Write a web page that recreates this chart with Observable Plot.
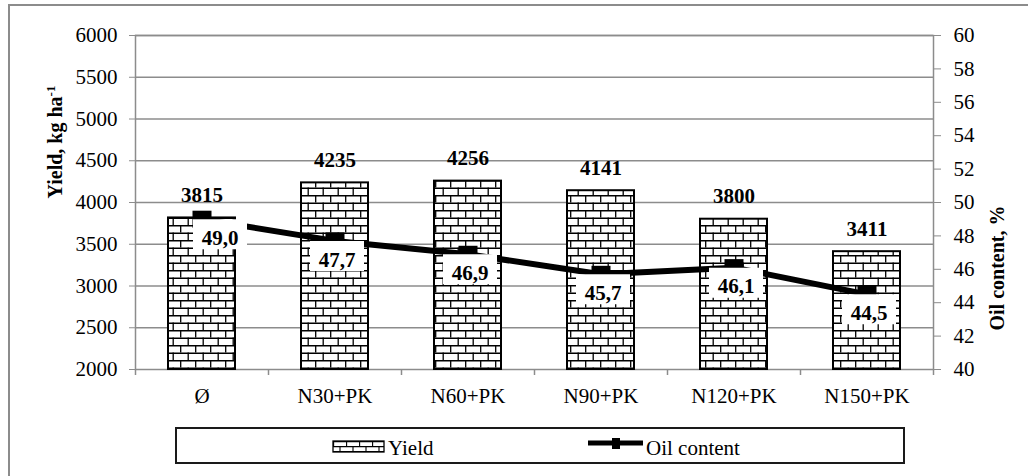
<!DOCTYPE html>
<html><head><meta charset="utf-8">
<script src="https://cdn.jsdelivr.net/npm/d3@7"></script>
<script src="https://cdn.jsdelivr.net/npm/@observablehq/plot@0.6"></script>
<style>
html,body{margin:0;padding:0;background:#fff;width:1028px;height:476px;overflow:hidden;font-family:"Liberation Serif","Times New Roman",Times,serif;}
#frame{position:absolute;left:8px;top:4px;width:1100px;height:600px;border-left:2px solid #8c8c8c;border-top:2px solid #8c8c8c;}
#chart{position:absolute;left:0;top:0;}
#legend{position:absolute;left:0;top:420px;}
svg, svg text{font-family:"Liberation Serif","Times New Roman",Times,serif !important;}
</style></head><body>
<div id="frame"></div><div id="chart"></div><div id="legend"></div>
<script>
const categories = ["Ø", "N30+PK", "N60+PK", "N90+PK", "N120+PK", "N150+PK"];
const yieldValues = [3815, 4235, 4256, 4141, 3800, 3411];
const oilValues = [49.0, 47.7, 46.9, 45.7, 46.1, 44.5];
const yieldTicks = [2000, 2500, 3000, 3500, 4000, 4500, 5000, 5500, 6000];
const oilTicks = [40, 42, 44, 46, 48, 50, 52, 54, 56, 58, 60];
const yDomain = [2000, 6000];
const oilDomain = [40, 60];

const k = (yDomain[1] - yDomain[0]) / (oilDomain[1] - oilDomain[0]);
const toY = v => yDomain[0] + (v - oilDomain[0]) * k;
const fromY = y => oilDomain[0] + (y - yDomain[0]) / k;
const fmtOil = v => v.toFixed(1).replace(".", ",");

const rows = categories.map((cat, i) => ({cat, yield: yieldValues[i], oil: oilValues[i], oilY: toY(oilValues[i])}));

const W = 1028, H = 420, ML = 135, MR = 95, MT = 35, MB = 51;
const halfBand = (W - ML - MR) / categories.length / 2;
const gray = "#8c8c8c";
const font = "'Liberation Serif', 'Times New Roman', Times, serif";

const markerSym = {draw(ctx) { ctx.rect(-9.5, -8.5, 19, 17); }};
const boxSym = {draw(ctx) { ctx.rect(-27, -15, 54, 30); }};

const chart = Plot.plot({
  width: W, height: H,
  marginLeft: ML, marginRight: MR, marginTop: MT, marginBottom: MB,
  style: {fontFamily: font, fontSize: "21px", color: "black", background: "transparent"},
  x: {type: "band", domain: categories, padding: 0, axis: null},
  y: {domain: yDomain, axis: null},
  marks: [
    Plot.ruleY(yieldTicks.slice(1), {stroke: gray, strokeWidth: 1.5}),
    Plot.frame({stroke: gray, strokeWidth: 1.5}),
    Plot.barY(rows, {x: "cat", y1: yDomain[0], y2: "yield", fill: "url(#brick)", stroke: "black", strokeWidth: 2, insetLeft: 33, insetRight: 33}),
    Plot.axisY(yieldTicks, {anchor: "left", tickSize: 6, tickPadding: 12, stroke: gray, label: null, fontSize: 21, tickFormat: d => String(d)}),
    Plot.axisY(oilTicks.map(toY), {anchor: "right", tickSize: 7, tickPadding: 13, stroke: gray, label: null, fontSize: 21, tickFormat: y => String(Math.round(fromY(y)))}),
    Plot.axisX({tickSize: 0, tickPadding: 19, label: null, fontSize: 21}),
    Plot.axisX({tickSize: 6, tickFormat: () => "", dx: -halfBand, stroke: gray, strokeWidth: 1.5, label: null}),
    Plot.axisX({ticks: [categories[categories.length - 1]], tickSize: 6, tickFormat: () => "", dx: halfBand, stroke: gray, strokeWidth: 1.5, label: null}),
    Plot.text(rows, {x: "cat", y: "yield", text: d => String(d.yield), lineAnchor: "bottom", dy: -16, fontWeight: "bold", fontSize: 21, fill: "black"}),
    Plot.line(rows, {x: "cat", y: "oilY", stroke: "black", strokeWidth: 6}),
    Plot.dot(rows, {x: "cat", y: "oilY", symbol: markerSym, fill: "black", stroke: "none"}),
    Plot.dot(rows.slice(0, 1), {x: "cat", y: "oilY", symbol: boxSym, fill: "white", stroke: "none", dx: 18, dy: 15}),
    Plot.dot(rows.slice(1), {x: "cat", y: "oilY", symbol: boxSym, fill: "white", stroke: "none", dx: 2, dy: 15}),
    Plot.text(rows.slice(0, 1), {x: "cat", y: "oilY", text: d => fmtOil(d.oil), dx: 18, dy: 19, fontWeight: "bold", fontSize: 21, fill: "black"}),
    Plot.text(rows.slice(1), {x: "cat", y: "oilY", text: d => fmtOil(d.oil), dx: 2, dy: 19, fontWeight: "bold", fontSize: 21, fill: "black"}),
    Plot.text(["Yield, kg ha"], {frameAnchor: "left", text: d => d, rotate: -90, dx: -80, dy: -4, fontWeight: "bold", fontSize: 20, fill: "black"}),
    Plot.text(["Oil content, %"], {frameAnchor: "right", text: d => d, rotate: -90, dx: 64, dy: 3, fontWeight: "bold", fontSize: 20, fill: "black"})
  ]
});

d3.select(chart).insert("defs", ":first-child").html(
  `<pattern id="brick" patternUnits="userSpaceOnUse" width="15" height="15">
     <rect width="15" height="15" fill="white"/>
     <path d="M0,0.75H15M0,8.25H15" stroke="black" stroke-width="1.6"/>
     <path d="M0.7,0V7.5M8.2,7.5V15" stroke="black" stroke-width="1.3"/>
   </pattern>`);

document.getElementById("chart").appendChild(chart);

// superscript on the yield title
d3.select(chart).selectAll("text").filter(function() { return this.textContent === "Yield, kg ha"; })
  .append("tspan").attr("baseline-shift", "super").attr("font-size", 13).text("-1");

// legend below the plot
const lg = d3.select("#legend").append("svg").attr("width", W).attr("height", 56)
  .style("font-family", font).style("font-size", "21px");
lg.append("defs").html(
  `<pattern id="brick2" patternUnits="userSpaceOnUse" width="13" height="11" x="333" y="21">
     <rect width="13" height="11" fill="white"/>
     <path d="M0,0.6H13M0,5.6H13M0,10.6H13" stroke="black" stroke-width="1.2"/>
     <path d="M0.6,0V5.5M7,5.5V11" stroke="black" stroke-width="1.1"/>
   </pattern>`);
lg.append("rect").attr("x", 176).attr("y", 8).attr("width", 728).attr("height", 35)
  .attr("fill", "none").attr("stroke", "#1a1a1a").attr("stroke-width", 2);
lg.append("rect").attr("x", 333).attr("y", 21).attr("width", 51).attr("height", 11)
  .attr("fill", "url(#brick2)").attr("stroke", "black").attr("stroke-width", 1.3);
lg.append("text").attr("x", 388).attr("y", 35).text("Yield");
lg.append("line").attr("x1", 588).attr("x2", 643).attr("y1", 23).attr("y2", 23)
  .attr("stroke", "black").attr("stroke-width", 5);
lg.append("rect").attr("x", 612).attr("y", 18).attr("width", 8).attr("height", 11).attr("fill", "black");
lg.append("text").attr("x", 646).attr("y", 35).text("Oil content");

// enforce the serif face on every text
d3.selectAll("svg text").attr("font-family", "Liberation Serif").style("font-family", "'Liberation Serif', serif");
</script>
</body></html>
